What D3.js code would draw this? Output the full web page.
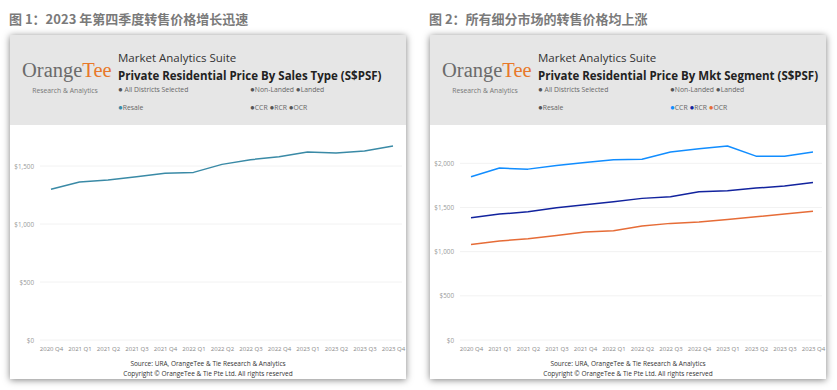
<!DOCTYPE html>
<html><head><meta charset="utf-8">
<script src="https://cdn.jsdelivr.net/npm/d3@7"></script>
<style>
body{margin:0;background:#fff;}
svg{display:block;}
</style></head>
<body>
<svg id="c" width="837" height="390"></svg>
<script>
const quarters = ["2020 Q4","2021 Q1","2021 Q2","2021 Q3","2021 Q4","2022 Q1","2022 Q2","2022 Q3","2022 Q4","2023 Q1","2023 Q2","2023 Q3","2023 Q4"];
const resale = [1299,1362,1379,1408,1437,1445,1514,1554,1580,1621,1612,1629,1672];
const ccr = [1847,1946,1934,1976,2010,2040,2047,2127,2164,2195,2081,2081,2127];
const rcr = [1384,1425,1452,1497,1531,1565,1603,1622,1678,1690,1720,1742,1784];
const ocr = [1082,1120,1146,1184,1222,1237,1290,1320,1335,1365,1395,1425,1456];
const leftTicks = [0,500,1000,1500];
const rightTicks = [0,500,1000,1500,2000];
const titles = ["图 1：2023 年第四季度转售价格增长迅速","图 2：所有细分市场的转售价格均上涨"];
const chartTitles = ["Private Residential Price By Sales Type (S$PSF)","Private Residential Price By Mkt Segment (S$PSF)"];

const svg = d3.select("#c");
const defs = svg.append("defs");
const f = defs.append("filter").attr("id","sh").attr("x","-10%").attr("y","-10%").attr("width","120%").attr("height","120%");
f.append("feDropShadow").attr("dx",0).attr("dy",1).attr("stdDeviation",3.5).attr("flood-color","#000").attr("flood-opacity",0.5);

const fmt = d => d===0 ? "$0" : "$" + d3.format(",")(d);
const ui = "'Open Sans','Noto Sans',sans-serif";

function panel(ox, idx, yMaxVal, yPix, ticks, series, resaleColor, segColors){
  svg.append("text").attr("x",ox+9).attr("y",24).attr("font-family","'Noto Sans CJK SC',sans-serif")
    .attr("font-weight","bold").attr("font-size",13).attr("fill","#7a7a7a").text(titles[idx]);
  const cx = ox+10, cw = 396, cy = 35, ch = 344;
  svg.append("rect").attr("x",cx).attr("y",cy).attr("width",cw).attr("height",ch).attr("fill","#fff").attr("filter","url(#sh)");
  svg.append("rect").attr("x",cx).attr("y",cy).attr("width",cw).attr("height",90).attr("fill","#e6e6e6");
  const logo = svg.append("text").attr("x",ox+22).attr("y",77).attr("font-family","'Liberation Serif',serif")
    .attr("font-size",20.5);
  logo.append("tspan").attr("fill","#6b6b6b").text("Orange");
  logo.append("tspan").attr("fill","#e8782a").text("Tee");
  svg.append("text").attr("x",ox+65).attr("y",93).attr("text-anchor","middle").attr("font-family",ui).attr("font-size",6.8).attr("fill","#777").text("Research & Analytics");
  svg.append("text").attr("x",ox+118).attr("y",62).attr("font-family",ui).attr("font-size",11.5).attr("fill","#333").text("Market Analytics Suite");
  svg.append("text").attr("x",ox+118).attr("y",80).attr("font-family",ui).attr("font-weight","bold").attr("font-size",11.5).attr("fill","#222").text(chartTitles[idx]);
  const leg = (x,y,items)=>{
    const t = svg.append("text").attr("x",x).attr("y",y).attr("font-family",ui).attr("font-size",6.8).attr("fill","#666");
    items.forEach(([label,col])=>{
      t.append("tspan").attr("fill",col).attr("font-size",8).text("●");
      t.append("tspan").text(label+" ");
    });
  };
  leg(ox+118,92,[["  All Districts Selected","#555"]]);
  leg(ox+250,92,[["Non-Landed","#555"],["Landed","#555"]]);
  leg(ox+118,110,[["Resale",resaleColor]]);
  leg(ox+250,110,[["CCR",segColors[0]],["RCR",segColors[1]],["OCR",segColors[2]]]);

  const x = d3.scalePoint().domain(quarters).range([ox+51, ox+393]);
  const y = d3.scaleLinear().domain([0,yMaxVal]).range([340,yPix]);
  svg.append("g").selectAll("line").data(ticks).join("line")
    .attr("x1",ox+40).attr("x2",ox+402).attr("y1",d=>y(d)).attr("y2",d=>y(d))
    .attr("stroke","#f2f2f2").attr("stroke-width",1);
  const ya = svg.append("g").attr("transform",`translate(${ox+37},0)`)
    .call(d3.axisLeft(y).tickValues(ticks).tickFormat(fmt).tickSize(0));
  ya.select(".domain").remove();
  ya.selectAll("text").attr("font-family",ui).attr("font-size",6.3).attr("fill","#999").attr("dx",0);
  const xa = svg.append("g").attr("transform",`translate(0,344)`)
    .call(d3.axisBottom(x).tickSize(0));
  xa.select(".domain").remove();
  xa.selectAll("text").attr("font-family",ui).attr("font-size",6).attr("fill","#888").attr("dy","0.71em");
  const line = d3.line().x((d,i)=>x(quarters[i])).y(d=>y(d));
  series.forEach(([vals,col])=>{
    svg.append("path").datum(vals).attr("d",line).attr("fill","none").attr("stroke",col).attr("stroke-width",1.5).attr("stroke-linejoin","round");
  });
  svg.append("text").attr("x",ox+208).attr("y",366).attr("text-anchor","middle").attr("font-family",ui).attr("font-size",6.5).attr("fill","#333").text("Source: URA, OrangeTee & Tie Research & Analytics");
  svg.append("text").attr("x",ox+208).attr("y",376).attr("text-anchor","middle").attr("font-family",ui).attr("font-size",6.5).attr("fill","#333").text("Copyright © OrangeTee & Tie Pte Ltd. All rights reserved");
}

const resaleCol = "#3a8aa6";
const seg = ["#118dff","#12239e","#e66c37"];
panel(0,0,1500,166,leftTicks,[[resale,resaleCol]],resaleCol,["#555","#555","#555"]);
panel(420,1,2000,163.3,rightTicks,[[ccr,seg[0]],[rcr,seg[1]],[ocr,seg[2]]],"#555",seg);
</script>
</body></html>
